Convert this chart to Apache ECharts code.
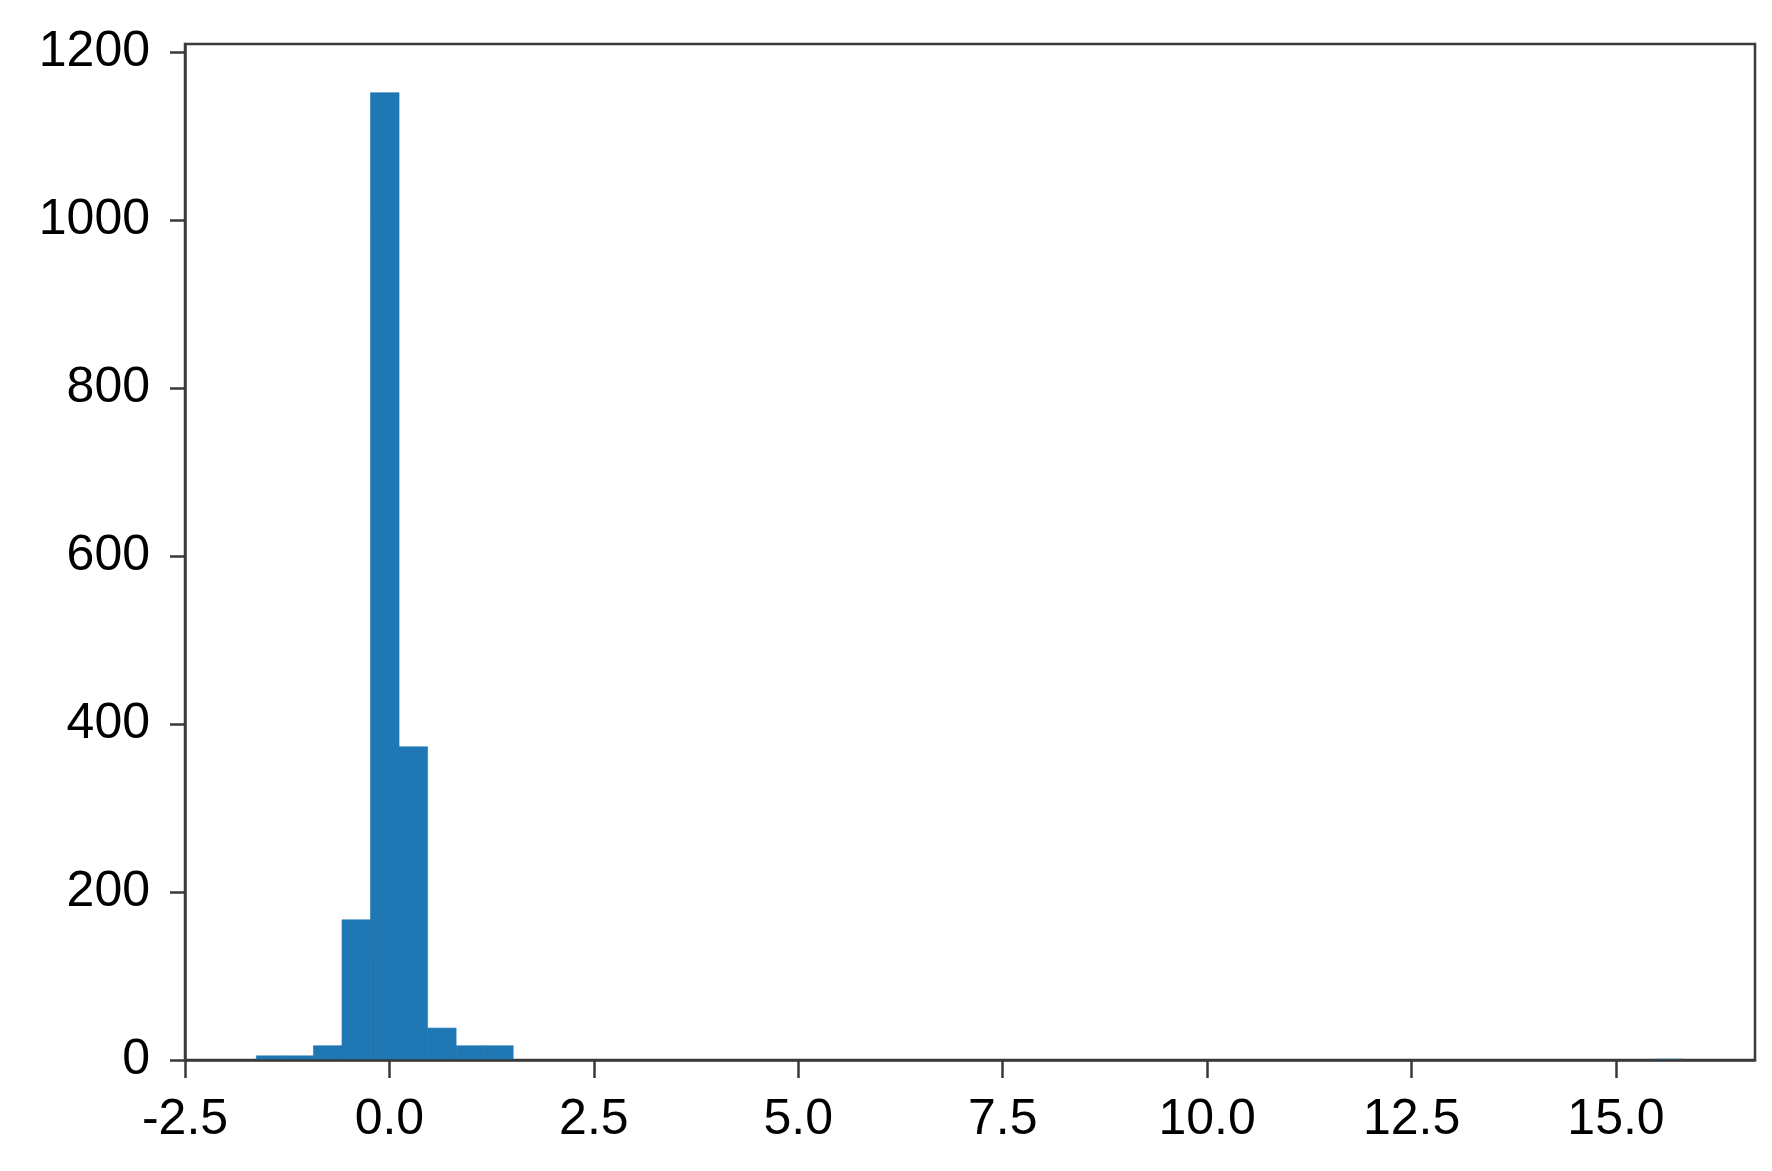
<!DOCTYPE html>
<html>
<head>
<meta charset="utf-8">
<script src="https://cdn.jsdelivr.net/npm/echarts@6/dist/echarts.min.js"></script>
<style>
  html, body { margin: 0; padding: 0; background: #fff; }
  #chart { width: 1772px; height: 1171px; }
</style>
</head>
<body>
<div id="chart"></div>
<script>
// histogram: 50 equal bins between binLo and binHi
const binLo = -1.627
const binHi = 15.82
const counts = [
  5, 5, 17, 167, 1152, 373, 38, 17, 17, 0,
  0, 0, 0, 0, 0, 0, 0, 0, 0, 0,
  0, 0, 0, 0, 0, 0, 0, 0, 0, 0,
  0, 0, 0, 0, 0, 0, 0, 0, 0, 0,
  0, 0, 0, 0, 0, 0, 0, 0, 0, 1
]
const xTicks = [-2.5, 0, 2.5, 5, 7.5, 10, 12.5, 15]
const yTicks = [0, 200, 400, 600, 800, 1000, 1200]

const binW = (binHi - binLo) / counts.length
const bins = counts.map(function (c, i) {
  return [binLo + i * binW, binLo + (i + 1) * binW, c]
})

const chart = echarts.init(document.getElementById('chart'))
const labelFont = {
  color: '#000',
  fontSize: 50,
  fontFamily: '"Liberation Sans", Arial, sans-serif'
}
const axisColor = '#3a3a3a'

chart.setOption({
  animation: false,
  backgroundColor: '#fff',
  grid: {
    left: 185,
    right: 17,
    top: 44,
    bottom: 111,
    show: true,
    borderColor: axisColor,
    borderWidth: 2.5
  },
  xAxis: {
    type: 'value',
    min: -2.5,
    max: 16.7,
    interval: 2.5,
    z: 5,
    axisLine: { show: true, onZero: false, lineStyle: { color: axisColor, width: 2.5 } },
    axisTick: { show: true, length: 18, customValues: xTicks, lineStyle: { color: axisColor, width: 2.5 } },
    axisLabel: Object.assign({
      margin: 35,
      customValues: xTicks,
      formatter: function (v) { return v.toFixed(1) }
    }, labelFont),
    splitLine: { show: false }
  },
  yAxis: {
    type: 'value',
    min: 0,
    max: 1210,
    interval: 200,
    z: 5,
    axisLine: { show: true, onZero: false, lineStyle: { color: axisColor, width: 2.5 } },
    axisTick: { show: true, length: 15, customValues: yTicks, lineStyle: { color: axisColor, width: 2.5 } },
    axisLabel: Object.assign({
      margin: 35,
      customValues: yTicks,
      formatter: function (v) { return String(v) }
    }, labelFont),
    splitLine: { show: false }
  },
  series: [
    {
      type: 'custom',
      z: 1,
      data: bins,
      encode: { x: [0, 1], y: 2 },
      renderItem: function (params, api) {
        if (!api.value(2)) return null
        const p0 = api.coord([api.value(0), 0])
        const p1 = api.coord([api.value(1), api.value(2)])
        return {
          type: 'rect',
          shape: { x: p0[0], y: p1[1], width: p1[0] - p0[0], height: p0[1] - p1[1] },
          style: { fill: '#1f77b4', stroke: '#1f77b4', lineWidth: 0.6 }
        }
      }
    }
  ]
})
</script>
</body>
</html>
